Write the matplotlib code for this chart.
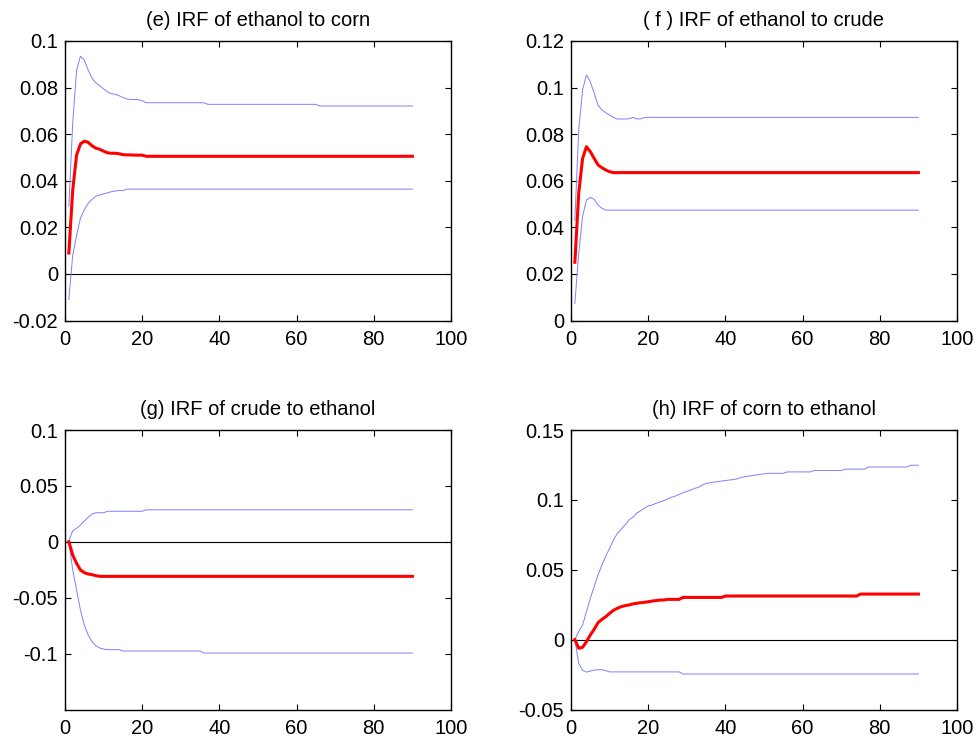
import numpy as np
import matplotlib
matplotlib.use('Agg')
import matplotlib.pyplot as plt

plt.rcParams['font.family'] = ['Liberation Sans', 'DejaVu Sans']
plt.rcParams['axes.unicode_minus'] = False

# horizont (period 1..90)
t = np.arange(1, 91)

# (e) etanol na kukuruz
e_red = [0.009, 0.036, 0.051, 0.0558, 0.057, 0.0565, 0.055, 0.054, 0.0535, 0.0527,
         0.052, 0.0518, 0.0518, 0.0516, 0.0512, 0.0511, 0.0511, 0.051, 0.051, 0.051] + [0.0505] * 70
e_up = [0.029, 0.0647, 0.0875, 0.0935, 0.0918, 0.0875, 0.084, 0.082, 0.0808, 0.0794,
        0.0782, 0.0774, 0.0771, 0.0765, 0.0758, 0.0751, 0.0749, 0.0749, 0.0748, 0.0744] \
       + [0.0735] * 16 + [0.0728] * 29 + [0.0721] * 25
e_lo = [-0.011, 0.008, 0.0165, 0.024, 0.0275, 0.0303, 0.032, 0.0334, 0.0339, 0.0344,
        0.0348, 0.0353, 0.0356, 0.0358, 0.0358] + [0.0364] * 75

# (f) etanol na naftu
f_red = [0.025, 0.0546, 0.0696, 0.0746, 0.0725, 0.0696, 0.0668, 0.0656, 0.0646, 0.0639] + [0.0635] * 80
f_up = [0.043, 0.0818, 0.099, 0.1054, 0.1025, 0.0976, 0.0925, 0.0904, 0.0892, 0.0882,
        0.0872, 0.0865, 0.0865, 0.0865, 0.0866, 0.0872, 0.0866, 0.0865] + [0.0872] * 72
f_lo = [0.0074, 0.0288, 0.0446, 0.0517, 0.0529, 0.052, 0.0496, 0.0482] + [0.0474] * 82

# (g) nafta na etanol
g_red = [0.0, -0.0118, -0.0193, -0.0252, -0.0276, -0.0288, -0.0294, -0.0303] + [-0.0309] * 82
g_up = [0.001, 0.0099, 0.012, 0.015, 0.0186, 0.0219, 0.0249, 0.026, 0.026, 0.026] \
       + [0.0273] * 10 + [0.0286] * 70
g_lo = [0.0, -0.0252, -0.0431, -0.061, -0.0744, -0.0834, -0.0893, -0.0929, -0.095, -0.0959] \
       + [-0.0965] * 4 + [-0.0977] * 21 + [-0.0995] * 55

# (h) kukuruz na etanol
h_red = [0.0, -0.0062, -0.0055, -0.0015, 0.0033, 0.0074, 0.0121, 0.0145, 0.0164, 0.0188,
         0.021, 0.0224, 0.0236, 0.0243, 0.0248, 0.0255, 0.026, 0.0264, 0.0267, 0.0271,
         0.0276, 0.0279, 0.0283, 0.0283, 0.0288, 0.0288, 0.0288, 0.0288] \
        + [0.0302] * 11 + [0.0312] * 35 + [0.0326] * 16
h_up = [0.0, 0.0057, 0.0104, 0.02, 0.0295, 0.0379, 0.0462, 0.0534, 0.0598, 0.0653,
        0.0713, 0.076, 0.0789, 0.082, 0.0856, 0.0875, 0.0904, 0.0922, 0.094, 0.0956,
        0.0963, 0.0975, 0.0985, 0.0994, 0.1006, 0.1018, 0.1027, 0.1039, 0.1051, 0.1061,
        0.107, 0.1082, 0.109, 0.1105, 0.1118, 0.1122, 0.1127, 0.1131, 0.1135, 0.1138,
        0.1142, 0.1145, 0.115, 0.1161, 0.1165, 0.117, 0.1174, 0.1178, 0.1183, 0.1186] \
       + [0.119] * 5 + [0.120] * 7 + [0.121] * 8 + [0.122] * 6 + [0.1235] * 11 + [0.1248] * 3
h_lo = [0.0, -0.017, -0.022, -0.0232, -0.0225, -0.0218, -0.0215, -0.0215, -0.0222] \
       + [-0.0231] * 19 + [-0.0246] * 62

titles = ['(e) IRF of ethanol to corn', '( f ) IRF of ethanol to crude',
          '(g) IRF of crude to ethanol', '(h) IRF of corn to ethanol']
yticks = [[-0.02, 0, 0.02, 0.04, 0.06, 0.08, 0.1],
          [0, 0.02, 0.04, 0.06, 0.08, 0.1, 0.12],
          [-0.1, -0.05, 0, 0.05, 0.1],
          [-0.05, 0, 0.05, 0.1, 0.15]]
ytick_labels = [['-0.02', '0', '0.02', '0.04', '0.06', '0.08', '0.1'],
                ['0', '0.02', '0.04', '0.06', '0.08', '0.1', '0.12'],
                ['-0.1', '-0.05', '0', '0.05', '0.1'],
                ['-0.05', '0', '0.05', '0.1', '0.15']]
ylims = [(-0.02, 0.1), (0, 0.12), (-0.15, 0.1), (-0.05, 0.15)]
xticks = [0, 20, 40, 60, 80, 100]
series = [(e_red, e_up, e_lo), (f_red, f_up, f_lo), (g_red, g_up, g_lo), (h_red, h_up, h_lo)]

W, H = 979, 746
fig = plt.figure(figsize=(W / 100, H / 100), dpi=100)
# pozicije osa u pikselima: (levo, gore, desno, dole)
boxes = [(65, 41, 451, 320.5), (571, 41, 957, 320.5),
         (65, 430, 451, 709.5), (571, 430, 957, 709.5)]

for i in range(4):
    l, tp, r, b = boxes[i]
    ax = fig.add_axes([l / W, 1 - b / H, (r - l) / W, (b - tp) / H])
    red, up, lo = series[i]
    ax.axhline(0, color='black', lw=0.8, zorder=1)
    ax.plot(t, up, color='#7f7fff', lw=0.7, zorder=2)
    ax.plot(t, lo, color='#7f7fff', lw=0.7, zorder=2)
    ax.plot(t, red, color='#ff0000', lw=2.2, zorder=3)
    ax.set_xlim(0, 100)
    ax.set_ylim(*ylims[i])
    ax.set_xticks(xticks)
    ax.set_xticklabels([str(x) for x in xticks])
    ax.set_yticks(yticks[i])
    ax.set_yticklabels(ytick_labels[i])
    ax.tick_params(direction='in', top=True, right=True, length=4, width=0.8,
                   labelsize=14.5)
    ax.tick_params(axis='x', pad=7)
    ax.tick_params(axis='y', pad=5)
    for s in ax.spines.values():
        s.set_linewidth(1.0)
    ax.set_title(titles[i], fontsize=14.5, pad=11)

fig.savefig('out.png', dpi=100)
